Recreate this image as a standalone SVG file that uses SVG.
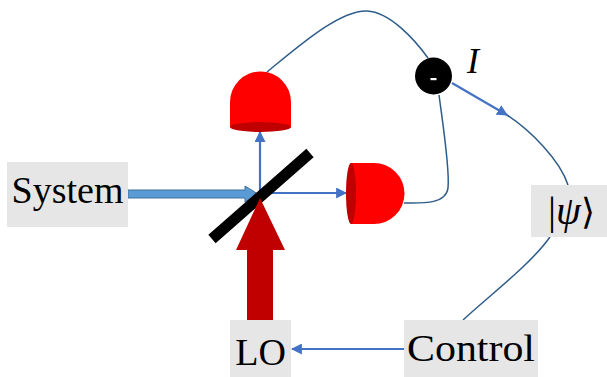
<svg xmlns="http://www.w3.org/2000/svg" width="607" height="377" viewBox="0 0 607 377">
<defs>
<style>
.box{fill:#E6E6E6}
.wire{fill:none;stroke:#2E5C8A;stroke-width:1.5}
.beam{fill:none;stroke:#4472C4;stroke-width:2.2}
.det{fill:#FF0000}
.detb{fill:#C00000}
</style>
<marker id="ah" viewBox="0 0 10 10" refX="9" refY="5" markerWidth="5" markerHeight="5" orient="auto" markerUnits="strokeWidth">
<path d="M0,0 L10,5 L0,10 z" fill="#4472C4"/>
</marker>
</defs>
<rect width="607" height="377" fill="#fff"/>
<g id="connectors">
<path class="wire" d="M267,72 C300,45 340,10 367,11 C390,12 415,40 428,58"/>
<path class="wire" d="M439,95 C443,125 450,170 448,188 C446,205 420,203 404,203"/>
<path class="wire" d="M507,115 C530,130 560,160 568,185"/>
<path class="wire" d="M550,237 C530,265 490,295 463,320"/>
<line class="beam" x1="452" y1="83" x2="507" y2="115" marker-end="url(#ah)"/>
<line class="beam" x1="404" y1="349" x2="292" y2="349" marker-end="url(#ah)"/>
<line class="beam" x1="260" y1="194" x2="260" y2="132" marker-end="url(#ah)"/>
<line class="beam" x1="260" y1="193" x2="346" y2="193" marker-end="url(#ah)"/>
<polygon id="system-beam" points="128,190 245,190 245,186 258,194 245,202 245,198 128,198" fill="#5B9BD5" stroke="#41719C" stroke-width="1"/>
</g>
<g id="beamsplitter">
<line x1="212" y1="239" x2="310" y2="153" stroke="#000" stroke-width="11"/>
</g>
<g id="lo-beam">
<polygon points="247,320 247,250 236,250 260,198 285,250 273,250 273,320" fill="#C00000"/>
</g>
<g id="detector-top">
<path class="det" d="M230,127 L230,102 A30.5,30.5 0 0 1 291,102 L291,127 Z"/>
<ellipse class="detb" cx="260.5" cy="127" rx="30.5" ry="5"/>
</g>
<g id="detector-right">
<path class="det" d="M351,163 L374,163 A30.5,30.5 0 0 1 374,224 L351,224 Z"/>
<ellipse class="detb" cx="351" cy="193.5" rx="5" ry="30.5"/>
</g>
<g id="subtractor">
<circle cx="433.5" cy="76" r="18.5" fill="#000"/>
<rect x="430.5" y="78" width="6" height="2.2" fill="#fff"/>
<text x="467" y="73" font-size="36" font-style="italic" font-family="serif">I</text>
</g>
<g id="system">
<rect class="box" x="7" y="162" width="121" height="65"/>
<g><text x="67.5" y="203" text-anchor="middle" font-family="'Liberation Serif'" font-size="38">System</text></g>
</g>
<g id="lo">
<rect class="box" x="230" y="320" width="61" height="57"/>
<text x="260.5" y="365" text-anchor="middle" font-family="Times New Roman" font-size="38">LO</text>
</g>
<g id="control" font-family="'Liberation Serif'">
<rect class="box" x="404" y="320" width="134" height="57"/>
<text x="407" y="361" textLength="128" lengthAdjust="spacingAndGlyphs" font-size="38">Control</text>
</g>
<g id="psi">
<rect class="box" x="531" y="185" width="76" height="52"/>
<text x="548" y="224" font-family="serif" font-size="40">|<tspan font-style="italic">ψ</tspan><tspan font-size="36">⟩</tspan></text>
</g>
</svg>
